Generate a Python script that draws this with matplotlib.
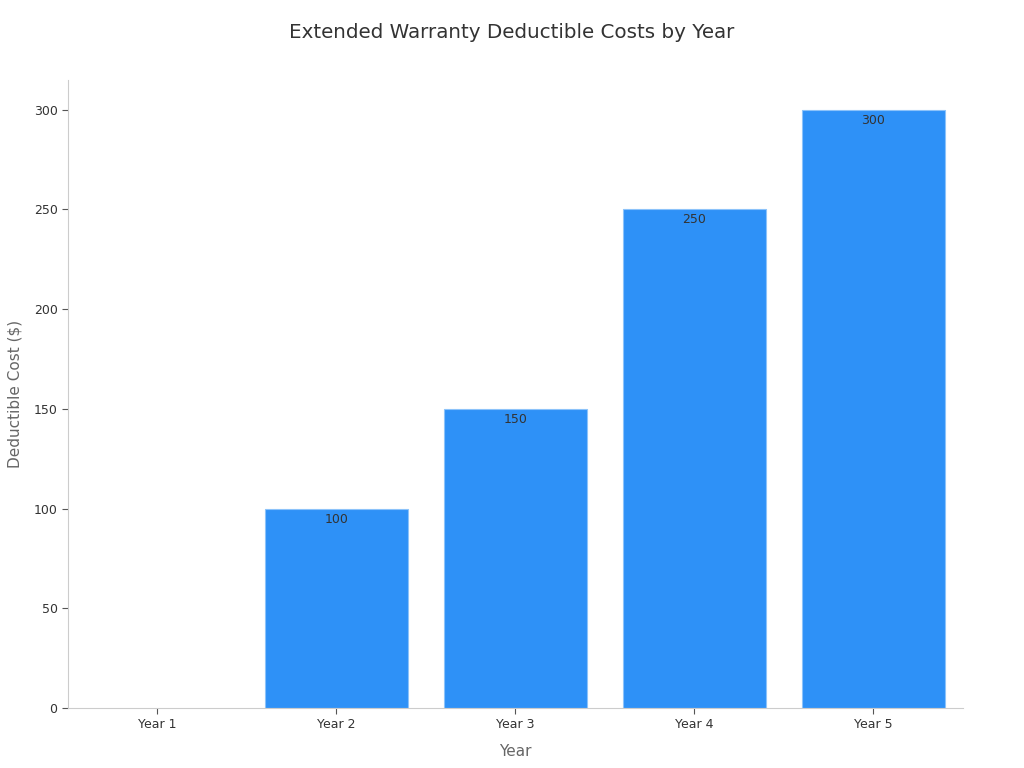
import matplotlib
matplotlib.use('Agg')
import matplotlib.pyplot as plt

# Data
YEARS = ['Year 1', 'Year 2', 'Year 3', 'Year 4', 'Year 5']
COSTS = [0, 100, 150, 250, 300]

BAR_COLOR = '#2E91F7'
TEXT_DARK = '#333333'
AXIS_GRAY = '#666666'

plt.rcParams['font.family'] = ['DejaVu Sans']


def make_chart():
    fig = plt.figure(figsize=(10.24, 7.68), dpi=100)
    ax = fig.add_axes([0.0664, 0.0781, 0.874, 0.818])

    x = range(len(YEARS))
    bars = ax.bar(x, COSTS, width=0.8, color=BAR_COLOR,
                  edgecolor='#8CC3FA', linewidth=0.8)

    # value labels just inside the top of each bar (skip zero)
    for bar, val in zip(bars, COSTS):
        if val == 0:
            bar.set_linewidth(0)
            continue
        ax.text(bar.get_x() + bar.get_width() / 2, val - 2, f"{val}",
                ha='center', va='top', fontsize=9, color=TEXT_DARK)

    ax.set_xlim(-0.5, len(YEARS) - 0.5)
    ax.set_ylim(0, 315)
    ax.set_yticks([0, 50, 100, 150, 200, 250, 300])
    ax.set_xticks(list(x))
    ax.set_xticklabels(YEARS)
    ax.tick_params(axis='both', labelsize=9, colors=TEXT_DARK, length=4)
    ax.tick_params(axis='both', color='#555555')

    for side in ['top', 'right']:
        ax.spines[side].set_visible(False)
    for side in ['left', 'bottom']:
        ax.spines[side].set_color('#cccccc')

    ax.set_xlabel('Year', fontsize=11, color=AXIS_GRAY, labelpad=9)
    ax.set_ylabel('Deductible Cost ($)', fontsize=11, color=AXIS_GRAY, labelpad=8)
    fig.suptitle('Extended Warranty Deductible Costs by Year', fontsize=14.3,
                 color=TEXT_DARK, y=0.97)

    fig.savefig('out.png', dpi=100)
    plt.close(fig)


if __name__ == "__main__":
    make_chart()
